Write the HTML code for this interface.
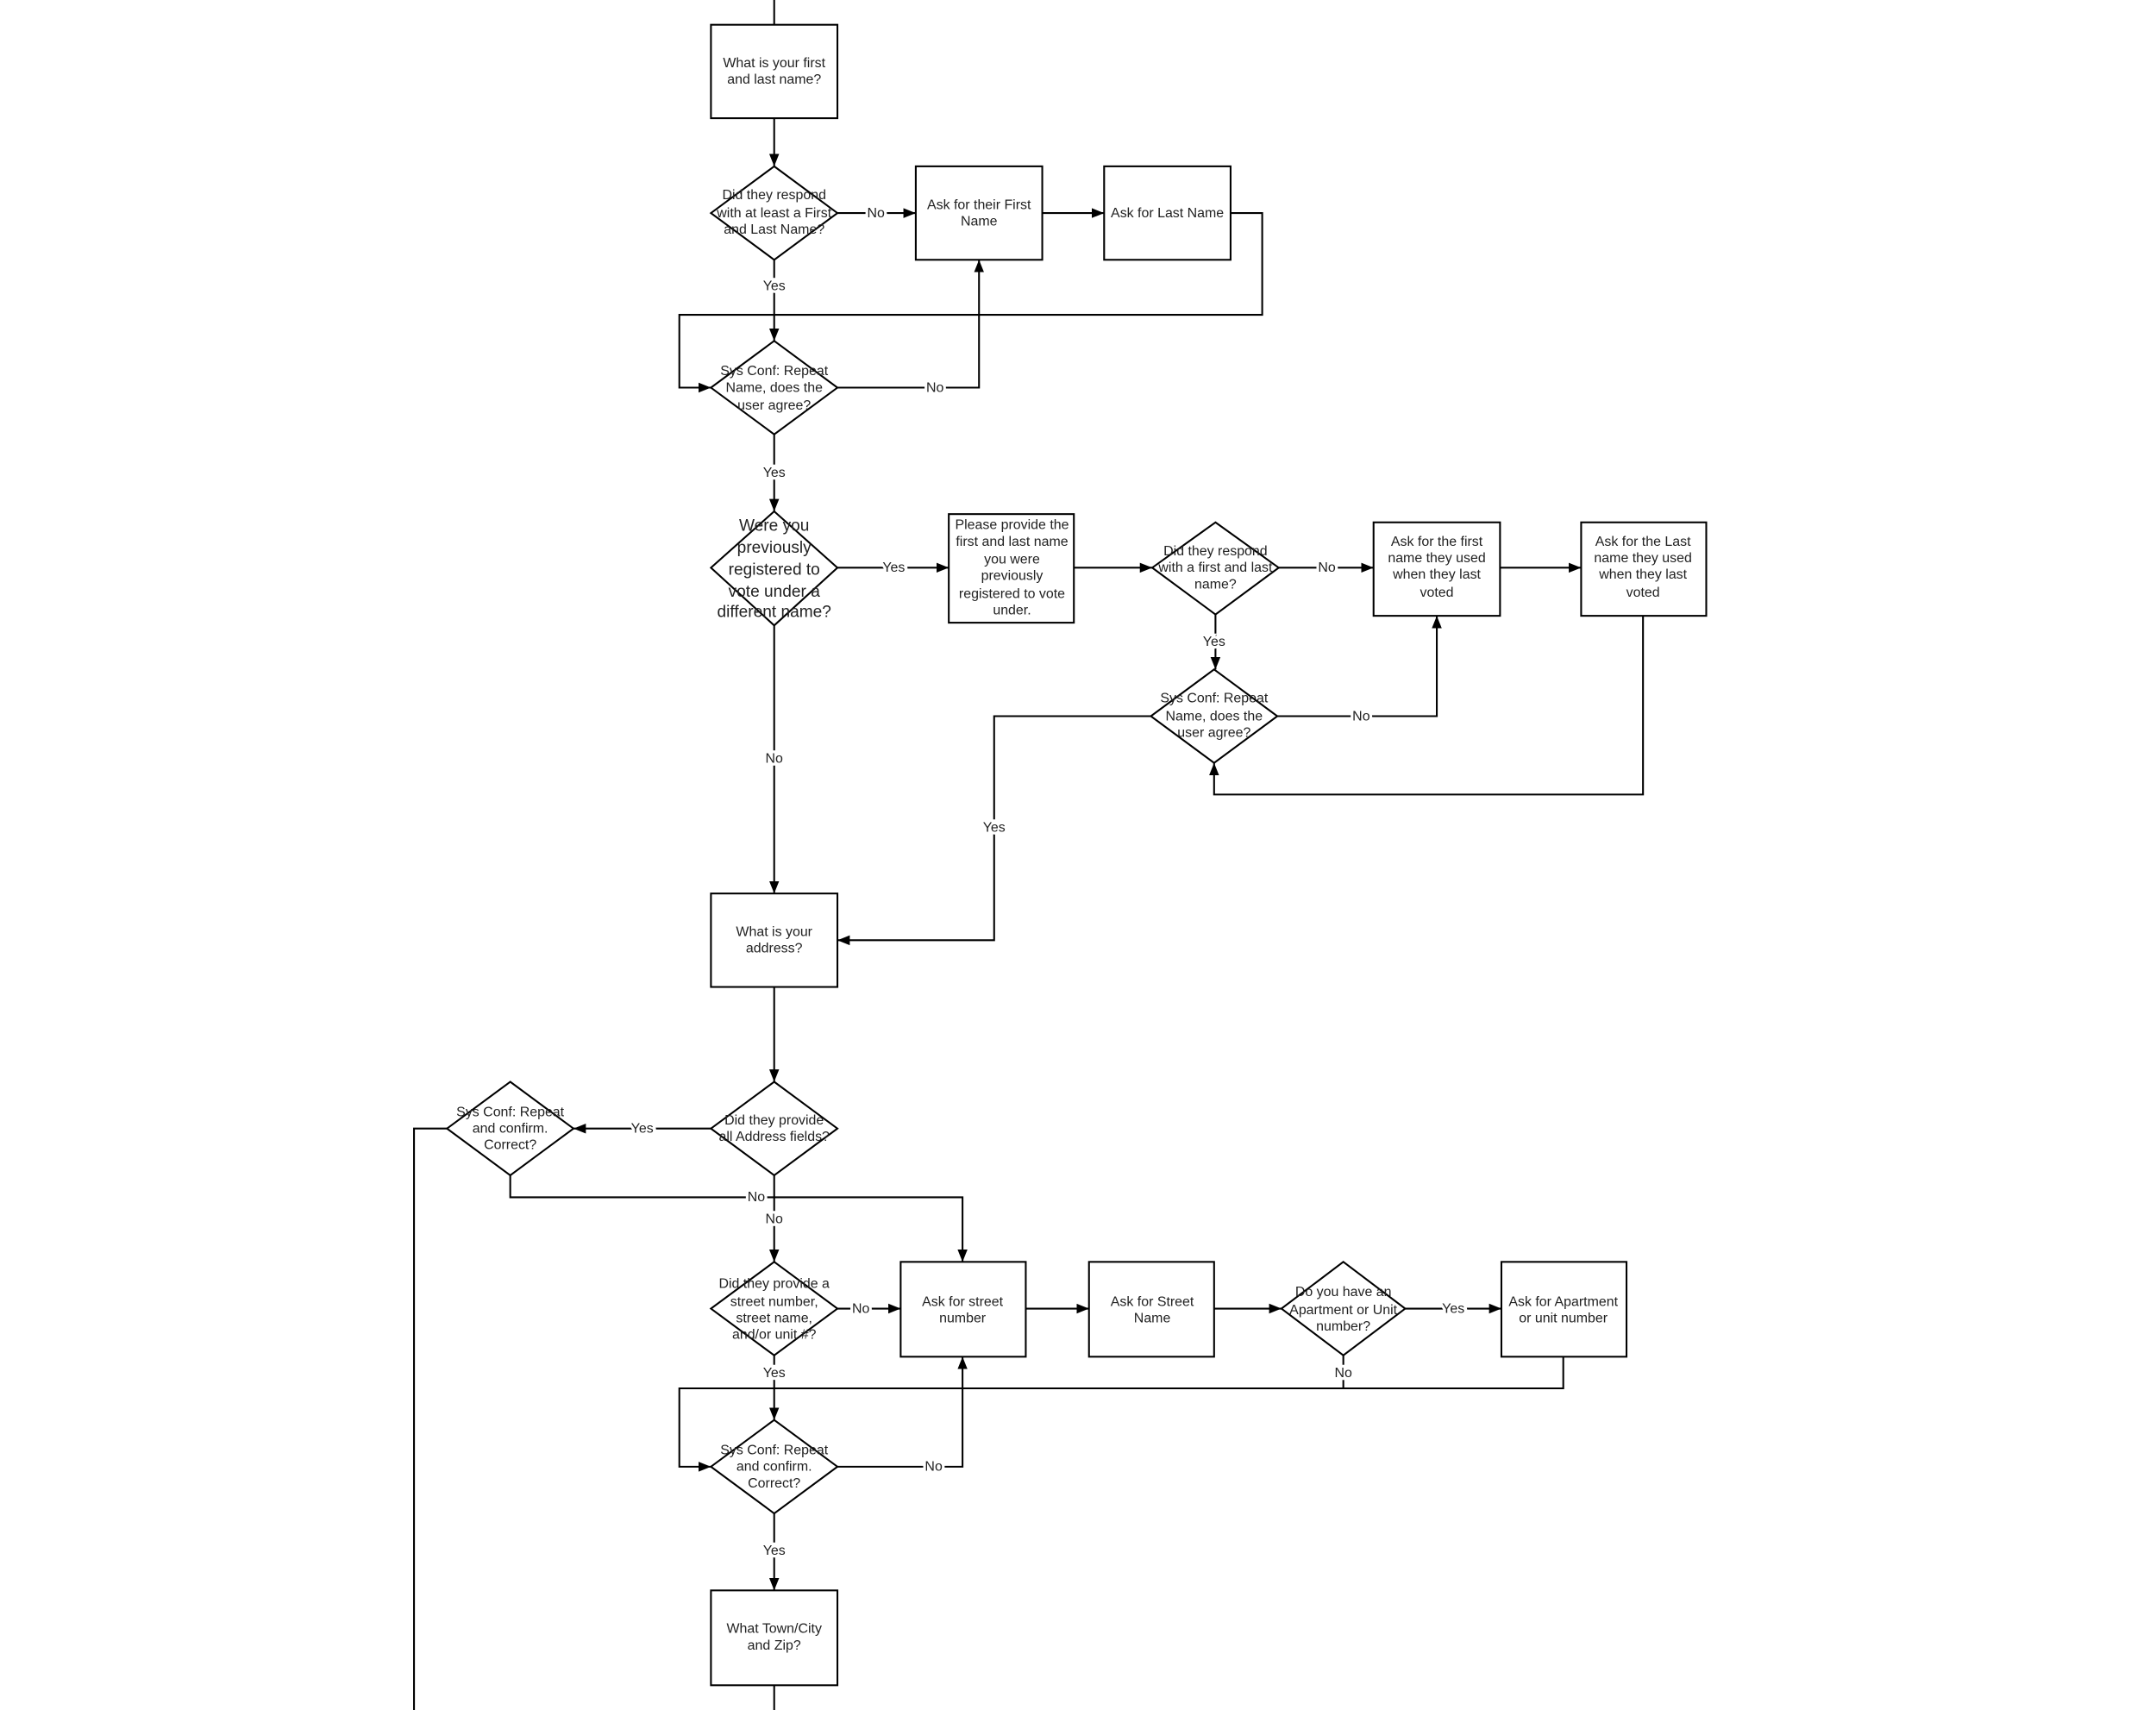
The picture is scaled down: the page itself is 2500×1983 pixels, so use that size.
<!DOCTYPE html>
<html><head><meta charset="utf-8"><style>
html,body{margin:0;padding:0;background:#fff;}
svg{display:block;}
text{font-family:"Liberation Sans",sans-serif;font-size:10px;fill:#222;text-anchor:middle;}
.l{paint-order:stroke;stroke:#fff;stroke-width:4px;}
.s{fill:#fff;stroke:#000;stroke-width:1.3;}
.c{fill:none;stroke:#000;stroke-width:1.3;}
</style></head><body>
<svg width="2500" height="1983" viewBox="0 0 1568 1244" xmlns="http://www.w3.org/2000/svg">
<defs><marker id="a" viewBox="0 0 10 10" refX="10" refY="5" markerWidth="8" markerHeight="8" markerUnits="userSpaceOnUse" orient="auto"><path d="M0,1 L10,5 L0,9 z" fill="#000"/></marker>
<marker id="b" viewBox="0 0 10 10" refX="10" refY="5" markerWidth="9" markerHeight="9" markerUnits="userSpaceOnUse" orient="auto"><path d="M0,1 L10,5 L0,9 z" fill="#000"/></marker></defs>

<!-- connectors -->
<path class="c" d="M563,0 V18"/>
<path class="c" d="M563,86 V121" marker-end="url(#b)"/>
<path class="c" d="M609,155 H666" marker-end="url(#b)"/>
<path class="c" d="M758,155 H803" marker-end="url(#b)"/>
<path class="c" d="M895,155 H918 V229 H494 V282 H517" marker-end="url(#b)"/>
<path class="c" d="M563,189 V248" marker-end="url(#b)"/>
<path class="c" d="M609,282 H712 V189" marker-end="url(#b)"/>
<path class="c" d="M563,316 V372" marker-end="url(#b)"/>
<path class="c" d="M609,413 H690" marker-end="url(#b)"/>
<path class="c" d="M781,413 H838" marker-end="url(#b)"/>
<path class="c" d="M930,413 H999" marker-end="url(#b)"/>
<path class="c" d="M1091,413 H1150" marker-end="url(#b)"/>
<path class="c" d="M1195,448 V578 H883 V555" marker-end="url(#b)"/>
<path class="c" d="M884,447 V487" marker-end="url(#b)"/>
<path class="c" d="M929,521 H1045 V448" marker-end="url(#b)"/>
<path class="c" d="M837,521 H723 V684 H609" marker-end="url(#b)"/>
<path class="c" d="M563,455 V650" marker-end="url(#b)"/>
<path class="c" d="M563,718 V787" marker-end="url(#b)"/>
<path class="c" d="M517,821 H417" marker-end="url(#b)"/>
<path class="c" d="M371,855 V871 H700 V918" marker-end="url(#b)"/>
<path class="c" d="M325,821 H301 V1244"/>
<path class="c" d="M563,855 V918" marker-end="url(#b)"/>
<path class="c" d="M609,952 H655" marker-end="url(#b)"/>
<path class="c" d="M746,952 H792" marker-end="url(#b)"/>
<path class="c" d="M883,952 H932" marker-end="url(#b)"/>
<path class="c" d="M1022,952 H1092" marker-end="url(#b)"/>
<path class="c" d="M1137,987 V1010 H494 V1067 H517" marker-end="url(#b)"/>
<path class="c" d="M977,986 V1010"/>
<path class="c" d="M563,986 V1033" marker-end="url(#b)"/>
<path class="c" d="M609,1067 H700 V987" marker-end="url(#b)"/>
<path class="c" d="M563,1101 V1157" marker-end="url(#b)"/>
<path class="c" d="M563,1226 V1244"/>

<!-- labels -->
<text class="l" x="637" y="158">No</text>
<text class="l" x="563" y="211">Yes</text>
<text class="l" x="680" y="285">No</text>
<text class="l" x="563" y="347">Yes</text>
<text class="l" x="650" y="416">Yes</text>
<text class="l" x="965" y="416">No</text>
<text class="l" x="883" y="470">Yes</text>
<text class="l" x="990" y="524">No</text>
<text class="l" x="723" y="605">Yes</text>
<text class="l" x="563" y="555">No</text>
<text class="l" x="467" y="824">Yes</text>
<text class="l" x="550" y="874">No</text>
<text class="l" x="563" y="890">No</text>
<text class="l" x="626" y="955">No</text>
<text class="l" x="1057" y="955">Yes</text>
<text class="l" x="977" y="1002">No</text>
<text class="l" x="563" y="1002">Yes</text>
<text class="l" x="679" y="1070">No</text>
<text class="l" x="563" y="1131">Yes</text>

<!-- boxes -->
<rect class="s" x="517" y="18" width="92" height="68"/>
<text x="563" y="49">What is your first</text><text x="563" y="61">and last name?</text>

<rect class="s" x="666" y="121" width="92" height="68"/>
<text x="712" y="152">Ask for their First</text><text x="712" y="164">Name</text>

<rect class="s" x="803" y="121" width="92" height="68"/>
<text x="849" y="158">Ask for Last Name</text>

<rect class="s" x="690" y="374" width="91" height="79"/>
<text x="736" y="385">Please provide the</text><text x="736" y="397">first and last name</text><text x="736" y="410">you were</text><text x="736" y="422">previously</text><text x="736" y="435">registered to vote</text><text x="736" y="447">under.</text>

<rect class="s" x="999" y="380" width="92" height="68"/>
<text x="1045" y="397">Ask for the first</text><text x="1045" y="409">name they used</text><text x="1045" y="421">when they last</text><text x="1045" y="434">voted</text>

<rect class="s" x="1150" y="380" width="91" height="68"/>
<text x="1195" y="397">Ask for the Last</text><text x="1195" y="409">name they used</text><text x="1195" y="421">when they last</text><text x="1195" y="434">voted</text>

<rect class="s" x="517" y="650" width="92" height="68"/>
<text x="563" y="681">What is your</text><text x="563" y="693">address?</text>

<rect class="s" x="655" y="918" width="91" height="69"/>
<text x="700" y="950">Ask for street</text><text x="700" y="962">number</text>

<rect class="s" x="792" y="918" width="91" height="69"/>
<text x="838" y="950">Ask for Street</text><text x="838" y="962">Name</text>

<rect class="s" x="1092" y="918" width="91" height="69"/>
<text x="1137" y="950">Ask for Apartment</text><text x="1137" y="962">or unit number</text>

<rect class="s" x="517" y="1157" width="92" height="69"/>
<text x="563" y="1188">What Town/City</text><text x="563" y="1200">and Zip?</text>

<!-- diamonds -->
<polygon class="s" points="563,121 609,155 563,189 517,155"/>
<text x="563" y="145">Did they respond</text><text x="563" y="158">with at least a First</text><text x="563" y="170">and Last Name?</text>

<polygon class="s" points="563,248 609,282 563,316 517,282"/>
<text x="563" y="273">Sys Conf: Repeat</text><text x="563" y="285">Name, does the</text><text x="563" y="298">user agree?</text>

<polygon class="s" points="563,372 609,413 563,455 517,413"/>
<text x="563" y="386" style="font-size:12px">Were you</text><text x="563" y="402" style="font-size:12px">previously</text><text x="563" y="418" style="font-size:12px">registered to</text><text x="563" y="434" style="font-size:12px">vote under a</text><text x="563" y="449" style="font-size:12px">different name?</text>

<polygon class="s" points="884,380 930,413 884,447 838,413"/>
<text x="884" y="404">Did they respond</text><text x="884" y="416">with a first and last</text><text x="884" y="428">name?</text>

<polygon class="s" points="883,487 929,521 883,555 837,521"/>
<text x="883" y="511">Sys Conf: Repeat</text><text x="883" y="524">Name, does the</text><text x="883" y="536">user agree?</text>

<polygon class="s" points="563,787 609,821 563,855 517,821"/>
<text x="563" y="818">Did they provide</text><text x="563" y="830">all Address fields?</text>

<polygon class="s" points="371,787 417,821 371,855 325,821"/>
<text x="371" y="812">Sys Conf: Repeat</text><text x="371" y="824">and confirm.</text><text x="371" y="836">Correct?</text>

<polygon class="s" points="563,918 609,952 563,986 517,952"/>
<text x="563" y="937">Did they provide a</text><text x="563" y="950">street number,</text><text x="563" y="962">street name,</text><text x="563" y="974">and/or unit #?</text>

<polygon class="s" points="977,918 1022,952 977,986 932,952"/>
<text x="977" y="943">Do you have an</text><text x="977" y="956">Apartment or Unit</text><text x="977" y="968">number?</text>

<polygon class="s" points="563,1033 609,1067 563,1101 517,1067"/>
<text x="563" y="1058">Sys Conf: Repeat</text><text x="563" y="1070">and confirm.</text><text x="563" y="1082">Correct?</text>
</svg>
</body></html>
